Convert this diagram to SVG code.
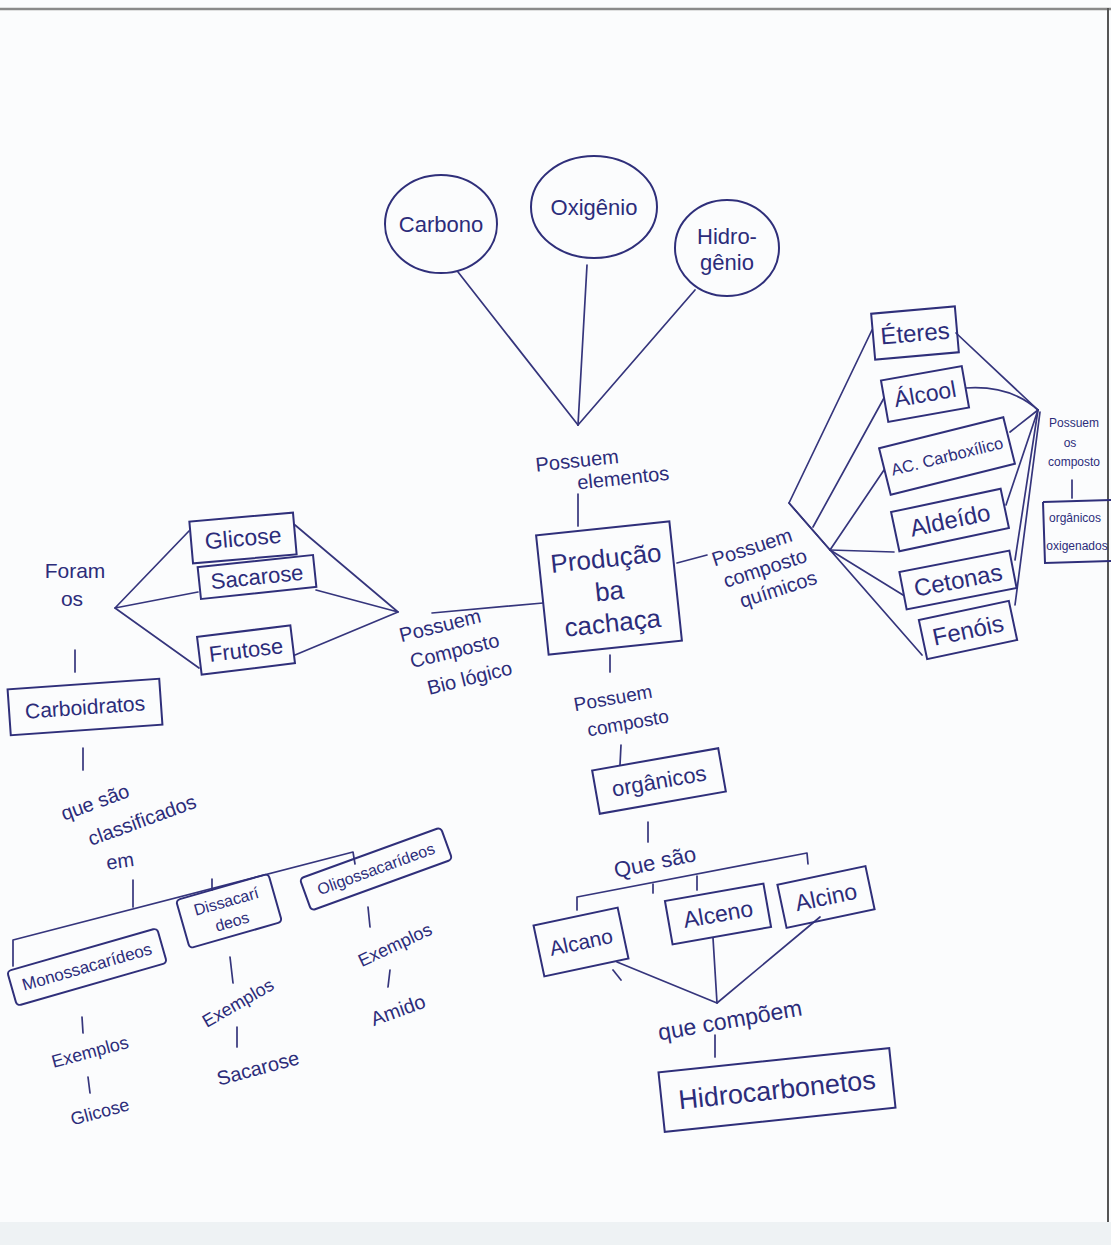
<svg xmlns="http://www.w3.org/2000/svg" width="1111" height="1245" viewBox="0 0 1111 1245">
<style>
.bx{fill:none;stroke:#2f2f7a;stroke-width:2}
.ln{fill:none;stroke:#35357c;stroke-width:1.7;stroke-linecap:round;stroke-linejoin:round}
.t{font-family:"Liberation Sans","DejaVu Sans",sans-serif;fill:#2c2c7a;text-anchor:middle;dominant-baseline:central}
</style>
<rect x="0" y="0" width="1111" height="1245" fill="#fbfcfd"/>
<rect x="0" y="1222" width="1111" height="23" fill="#eef2f4"/>
<line x1="0" y1="9" x2="1111" y2="9" stroke="#8a8a8a" stroke-width="2.5"/>
<line x1="1108" y1="8" x2="1108" y2="1222" stroke="#555" stroke-width="2"/>

<g id="connectors">
  <path class="ln" d="M458,272 L578,425"/>
  <path class="ln" d="M587,265 L578,425"/>
  <path class="ln" d="M695,290 L578,425"/>
  <path class="ln" d="M578,494 L578,526"/>
  <path class="ln" d="M432,613 L543,603"/>
  <path class="ln" d="M677,563 L707,555"/>
  <path class="ln" d="M610,655 L610,672"/>
  <path class="ln" d="M872,330 L789,503 L830,550 L903,595"/>
  <path class="ln" d="M813,527 L884,398"/>
  <path class="ln" d="M830,550 L884,470"/>
  <path class="ln" d="M830,550 L894,552"/>
  <path class="ln" d="M789,503 L922,655"/>
  <path class="ln" d="M956,333 L1038,410" stroke-width="3"/>
  <path class="ln" d="M966,388 Q1010,385 1038,410"/>
  <path class="ln" d="M1010,432 L1038,410"/>
  <path class="ln" d="M1006,505 L1038,410"/>
  <path class="ln" d="M1015,560 L1038,410"/>
  <path class="ln" d="M1015,605 L1040,412"/>
  <path class="ln" d="M1072,480 L1072,498"/>
  <path class="ln" d="M189,531 L115,608 L198,592"/>
  <path class="ln" d="M115,608 L199,668"/>
  <path class="ln" d="M295,525 L398,612 L316,590"/>
  <path class="ln" d="M295,655 L398,612"/>
  <path class="ln" d="M75,650 L75,672"/>
  <path class="ln" d="M83,748 L83,770"/>
  <path class="ln" d="M133,880 L133,907"/>
  <path class="ln" d="M13,966 L13,940 L353,852 L355,864"/>
  <path class="ln" d="M212,879 L212,890"/>
  <path class="ln" d="M82,1017 L83,1033"/>
  <path class="ln" d="M88,1077 L90,1093"/>
  <path class="ln" d="M230,957 L233,983"/>
  <path class="ln" d="M237,1027 L237,1047"/>
  <path class="ln" d="M368,907 L370,927"/>
  <path class="ln" d="M390,970 L388,987"/>
  <path class="ln" d="M621,745 L620,765"/>
  <path class="ln" d="M648,822 L648,842"/>
  <path class="ln" d="M577,910 L577,897 L807,853 L808,864"/>
  <path class="ln" d="M697,876 L697,890"/>
  <path class="ln" d="M653,884 L653,893"/>
  <path class="ln" d="M617,962 L717,1003 L713,938"/>
  <path class="ln" d="M820,917 L717,1003"/>
  <path class="ln" d="M613,970 L621,980"/>
  <path class="ln" d="M715,1035 L715,1057"/>
</g>

<g id="carbono">
  <ellipse class="bx" cx="441" cy="224" rx="56" ry="49"/>
  <text class="t" x="441" y="224" font-size="22">Carbono</text>
</g>
<g id="oxigenio">
  <ellipse class="bx" cx="594" cy="207" rx="63" ry="51"/>
  <text class="t" x="594" y="207" font-size="22">Oxigênio</text>
</g>
<g id="hidrogenio">
  <ellipse class="bx" cx="727" cy="248" rx="52" ry="48"/>
  <text class="t" x="727" y="236" font-size="22">Hidro-</text>
  <text class="t" x="727" y="262" font-size="22">gênio</text>
</g>
<g id="possuem-elementos" transform="translate(600,468) rotate(-6)">
  <text class="t" x="-22" y="-10" font-size="20">Possuem</text>
  <text class="t" x="22" y="12" font-size="20">elementos</text>
</g>

<g id="producao" transform="translate(609,588) rotate(-6)">
  <rect class="bx" x="-67" y="-60" width="134" height="120"/>
  <text class="t" x="0" y="-30" font-size="26">Produção</text>
  <text class="t" x="0" y="3" font-size="26">ba</text>
  <text class="t" x="0" y="35" font-size="26">cachaça</text>
</g>

<g id="possuem-quimicos" transform="translate(765,568) rotate(-18)">
  <text class="t" x="-6" y="-24" font-size="20">Possuem</text>
  <text class="t" x="0" y="0" font-size="20">composto</text>
  <text class="t" x="6" y="24" font-size="20">químicos</text>
</g>

<g id="possuem-biologico" transform="translate(457,652) rotate(-14)">
  <text class="t" x="-10" y="-30" font-size="20">Possuem</text>
  <text class="t" x="-2" y="-2" font-size="20">Composto</text>
  <text class="t" x="6" y="28" font-size="20">Bio lógico</text>
</g>

<g id="eteres" transform="translate(915,333) rotate(-5)">
  <rect class="bx" x="-42" y="-23" width="84" height="46"/>
  <text class="t" x="0" y="0" font-size="24">Éteres</text>
</g>
<g id="alcool" transform="translate(925,394) rotate(-10)">
  <rect class="bx" x="-41" y="-21" width="82" height="42"/>
  <text class="t" x="0" y="0" font-size="23">Álcool</text>
</g>
<g id="ac-carboxilico" transform="translate(947,456) rotate(-14)">
  <rect class="bx" x="-64" y="-24" width="128" height="48"/>
  <text class="t" x="0" y="0" font-size="16.5">AC. Carboxílico</text>
</g>
<g id="aldeido" transform="translate(950,520) rotate(-12)">
  <rect class="bx" x="-56" y="-20" width="112" height="40"/>
  <text class="t" x="0" y="0" font-size="24">Aldeído</text>
</g>
<g id="cetonas" transform="translate(958,580) rotate(-11)">
  <rect class="bx" x="-56" y="-19" width="112" height="38"/>
  <text class="t" x="0" y="0" font-size="24">Cetonas</text>
</g>
<g id="fenois" transform="translate(968,630) rotate(-12)">
  <rect class="bx" x="-46" y="-20" width="92" height="40"/>
  <text class="t" x="0" y="0" font-size="24">Fenóis</text>
</g>
<g id="possuem-os-compostos">
  <text class="t" x="1074" y="423" font-size="12">Possuem</text>
  <text class="t" x="1070" y="443" font-size="12">os</text>
  <text class="t" x="1074" y="462" font-size="12">composto</text>
</g>
<g id="organicos-oxigenados">
  <path class="bx" d="M1043,502 L1111,500 M1043,502 L1045,563 L1111,561"/>
  <text class="t" x="1075" y="518" font-size="12">orgânicos</text>
  <text class="t" x="1077" y="546" font-size="12">oxigenados</text>
</g>

<g id="glicose" transform="translate(243,538) rotate(-5)">
  <rect class="bx" x="-52" y="-21" width="104" height="42"/>
  <text class="t" x="0" y="0" font-size="23">Glicose</text>
</g>
<g id="sacarose" transform="translate(257,577) rotate(-6)">
  <rect class="bx" x="-58" y="-16" width="116" height="32"/>
  <text class="t" x="0" y="0" font-size="22">Sacarose</text>
</g>
<g id="frutose" transform="translate(246,650) rotate(-7)">
  <rect class="bx" x="-47" y="-19" width="94" height="38"/>
  <text class="t" x="0" y="0" font-size="22">Frutose</text>
</g>
<g id="foram-os">
  <text class="t" x="75" y="570" font-size="21">Foram</text>
  <text class="t" x="72" y="598" font-size="21">os</text>
</g>
<g id="carboidratos" transform="translate(85,707) rotate(-4)">
  <rect class="bx" x="-76" y="-23" width="152" height="46"/>
  <text class="t" x="0" y="0" font-size="21">Carboidratos</text>
</g>
<g id="que-sao-classificados">
  <text class="t" x="95" y="802" font-size="20" transform="rotate(-20 95 802)">que são</text>
  <text class="t" x="142" y="820" font-size="20" transform="rotate(-20 142 820)">classificados</text>
  <text class="t" x="120" y="861" font-size="20" transform="rotate(-8 120 861)">em</text>
</g>
<g id="monossacarideos" transform="translate(87,967) rotate(-16)">
  <rect class="bx" x="-78" y="-18" width="156" height="36" rx="4"/>
  <text class="t" x="0" y="0" font-size="17">Monossacarídeos</text>
</g>
<g id="dissacarideos" transform="translate(229,911) rotate(-16)">
  <rect class="bx" x="-48" y="-25" width="96" height="50" rx="4"/>
  <text class="t" x="0" y="-10" font-size="16">Dissacarí</text>
  <text class="t" x="0" y="11" font-size="16">deos</text>
</g>
<g id="oligossacarideos" transform="translate(376,869) rotate(-20)">
  <rect class="bx" x="-75" y="-17" width="150" height="34" rx="4"/>
  <text class="t" x="0" y="0" font-size="16">Oligossacarídeos</text>
</g>
<g id="exemplos-mono">
  <text class="t" x="90" y="1052" font-size="18" transform="rotate(-15 90 1052)">Exemplos</text>
  <text class="t" x="100" y="1112" font-size="18" transform="rotate(-15 100 1112)">Glicose</text>
</g>
<g id="exemplos-di">
  <text class="t" x="238" y="1003" font-size="18" transform="rotate(-30 238 1003)">Exemplos</text>
  <text class="t" x="258" y="1068" font-size="20" transform="rotate(-15 258 1068)">Sacarose</text>
</g>
<g id="exemplos-oligo">
  <text class="t" x="395" y="945" font-size="18" transform="rotate(-25 395 945)">Exemplos</text>
  <text class="t" x="398" y="1010" font-size="20" transform="rotate(-20 398 1010)">Amido</text>
</g>

<g id="possuem-composto">
  <text class="t" x="613" y="698" font-size="19" transform="rotate(-10 613 698)">Possuem</text>
  <text class="t" x="628" y="723" font-size="19" transform="rotate(-10 628 723)">composto</text>
</g>
<g id="organicos" transform="translate(659,781) rotate(-10)">
  <rect class="bx" x="-64" y="-22" width="128" height="44"/>
  <text class="t" x="0" y="0" font-size="22">orgânicos</text>
</g>
<g id="que-sao">
  <text class="t" x="655" y="862" font-size="22" transform="rotate(-12 655 862)">Que são</text>
</g>
<g id="alcano" transform="translate(581,942) rotate(-12)">
  <rect class="bx" x="-43" y="-26" width="86" height="52"/>
  <text class="t" x="0" y="0" font-size="21">Alcano</text>
</g>
<g id="alceno" transform="translate(718,914) rotate(-10)">
  <rect class="bx" x="-50" y="-22" width="100" height="44"/>
  <text class="t" x="0" y="0" font-size="23">Alceno</text>
</g>
<g id="alcino" transform="translate(826,897) rotate(-12)">
  <rect class="bx" x="-45" y="-22" width="90" height="44"/>
  <text class="t" x="0" y="0" font-size="23">Alcino</text>
</g>
<g id="que-compoem">
  <text class="t" x="730" y="1020" font-size="23" transform="rotate(-10 730 1020)">que compõem</text>
</g>
<g id="hidrocarbonetos" transform="translate(777,1090) rotate(-6)">
  <rect class="bx" x="-116" y="-30" width="232" height="60"/>
  <text class="t" x="0" y="0" font-size="27">Hidrocarbonetos</text>
</g>
</svg>
